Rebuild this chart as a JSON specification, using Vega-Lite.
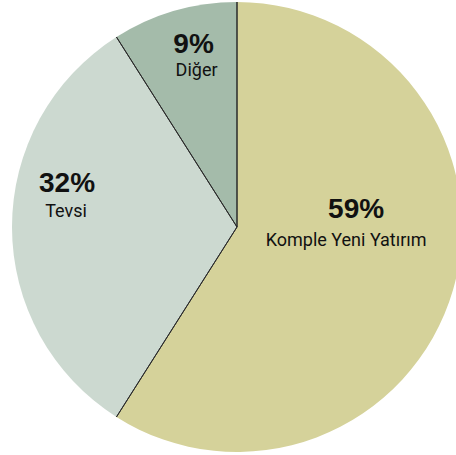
{
  "$schema": "https://vega.github.io/schema/vega-lite/v6.json",
  "width": 456,
  "height": 455,
  "autosize": "none",
  "padding": 0,
  "background": "white",
  "view": {"stroke": null},
  "data": {
    "values": [
      {"cat": "Komple Yeni Yatırım", "value": 59, "pct": "59%"},
      {"cat": "Tevsi", "value": 32, "pct": "32%"},
      {"cat": "Diğer", "value": 9, "pct": "9%"}
    ]
  },
  "encoding": {
    "theta": {"field": "value", "type": "quantitative", "stack": true},
    "order": {"field": "value", "type": "quantitative", "sort": "descending"}
  },
  "layer": [
    {
      "mark": {"type": "arc", "x": 237, "y": 227, "radius": 225, "stroke": null},
      "encoding": {
        "color": {
          "field": "cat", "type": "nominal", "legend": null,
          "scale": {"domain": ["Komple Yeni Yatırım", "Tevsi", "Diğer"], "range": ["#d5d29a", "#ccd9d0", "#a4bbaa"]}
        }
      }
    },
    {
      "transform": [
        {"stack": "value", "sort": [{"field": "value", "order": "descending"}], "groupby": [], "as": ["s", "e"]}
      ],
      "mark": {"type": "arc", "x": 237, "y": 227, "radius": 225, "filled": false, "stroke": "#2a2a2a", "strokeWidth": 1},
      "encoding": {
        "theta": {"field": "s", "type": "quantitative"},
        "theta2": {"field": "s"},
        "order": null
      }
    },
    {
      "mark": {"type": "text", "x": 237, "y": 227, "radius": 123, "dx": 1, "dy": -51, "font": "Liberation Sans", "fontWeight": "bold", "fontSize": 28, "color": "#111"},
      "encoding": {"text": {"condition": {"test": "datum.cat === 'Komple Yeni Yatırım'", "field": "pct"}, "value": ""}}
    },
    {
      "mark": {"type": "text", "x": 237, "y": 227, "radius": 123, "dx": -9, "dy": -20, "font": "Roboto", "fontSize": 18, "color": "#111"},
      "encoding": {"text": {"condition": {"test": "datum.cat === 'Komple Yeni Yatırım'", "field": "cat"}, "value": ""}}
    },
    {
      "mark": {"type": "text", "x": 237, "y": 227, "radius": 170, "dx": 0, "dy": -43, "font": "Liberation Sans", "fontWeight": "bold", "fontSize": 28, "color": "#111"},
      "encoding": {"text": {"condition": {"test": "datum.cat === 'Tevsi'", "field": "pct"}, "value": ""}}
    },
    {
      "mark": {"type": "text", "x": 237, "y": 227, "radius": 170, "dx": -1, "dy": -15, "font": "Roboto", "fontSize": 18, "color": "#111"},
      "encoding": {"text": {"condition": {"test": "datum.cat === 'Tevsi'", "field": "cat"}, "value": ""}}
    },
    {
      "mark": {"type": "text", "x": 237, "y": 227, "radius": 170, "dx": 4, "dy": -19, "font": "Liberation Sans", "fontWeight": "bold", "fontSize": 28, "color": "#111"},
      "encoding": {"text": {"condition": {"test": "datum.cat === 'Diğer'", "field": "pct"}, "value": ""}}
    },
    {
      "mark": {"type": "text", "x": 237, "y": 227, "radius": 170, "dx": 7, "dy": 7, "font": "Roboto", "fontSize": 18, "color": "#111"},
      "encoding": {"text": {"condition": {"test": "datum.cat === 'Diğer'", "field": "cat"}, "value": ""}}
    }
  ]
}
